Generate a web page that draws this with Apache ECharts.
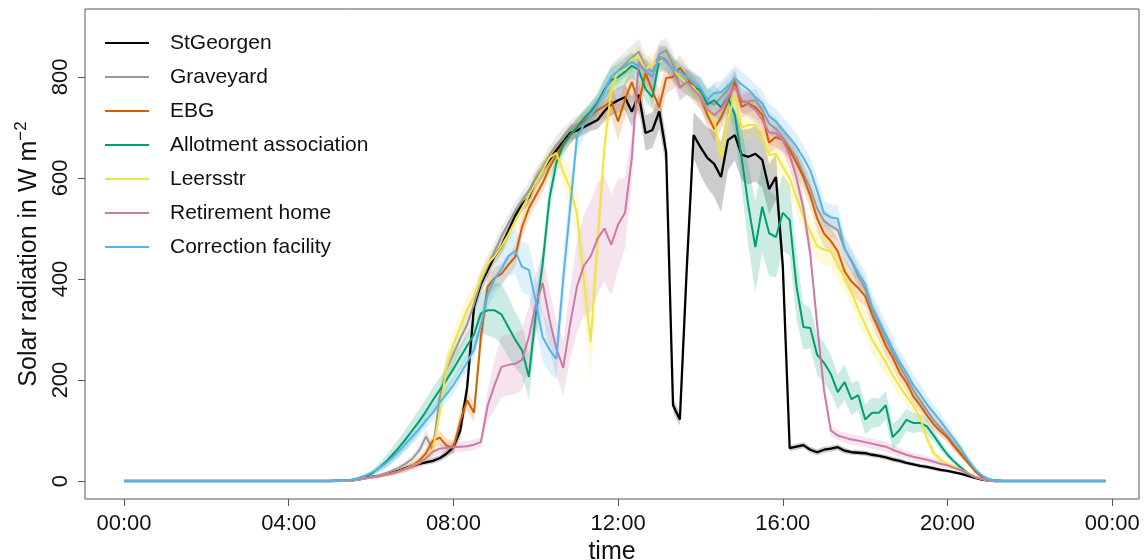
<!DOCTYPE html>
<html>
<head>
<meta charset="utf-8">
<title>Solar radiation</title>
<script src="https://cdn.jsdelivr.net/npm/echarts@6/dist/echarts.min.js"></script>
<style>
  html, body { margin: 0; padding: 0; background: #fff; }
  #chart { width: 1144px; height: 560px; }
</style>
</head>
<body>
<div id="chart"></div>
<script>
// time stamps (10 min steps during the day)
const times = [
  '00:00', '05:00',
  '05:30', '05:40', '05:50',
  '06:00', '06:10', '06:20', '06:30', '06:40', '06:50',
  '07:00', '07:10', '07:20', '07:30', '07:40', '07:50',
  '08:00', '08:10', '08:20', '08:30', '08:40', '08:50',
  '09:00', '09:10', '09:20', '09:30', '09:40', '09:50',
  '10:00', '10:10', '10:20', '10:30', '10:40', '10:50',
  '11:00', '11:10', '11:20', '11:30', '11:40', '11:50',
  '12:00', '12:10', '12:20', '12:30', '12:40', '12:50',
  '13:00', '13:10', '13:20', '13:30', '13:40', '13:50',
  '14:00', '14:10', '14:20', '14:30', '14:40', '14:50',
  '15:00', '15:10', '15:20', '15:30', '15:40', '15:50',
  '16:00', '16:10', '16:20', '16:30', '16:40', '16:50',
  '17:00', '17:10', '17:20', '17:30', '17:40', '17:50',
  '18:00', '18:10', '18:20', '18:30', '18:40', '18:50',
  '19:00', '19:10', '19:20', '19:30', '19:40', '19:50',
  '20:00', '20:10', '20:20', '20:30', '20:40', '20:50',
  '21:00', '21:10', '21:20', '21:30',
  '22:00', '23:50'
]

const names = ['StGeorgen', 'Graveyard', 'EBG', 'Allotment association', 'Leersstr', 'Retirement home', 'Correction facility']
const colors = ['#000000', '#999999', '#D55E00', '#009E73', '#F0E442', '#CC79A7', '#56B4E9']

const xTicks = [0, 4, 8, 12, 16, 20, 24]
const yTicks = [0, 200, 400, 600, 800]

// mean radiation per site
const stGeorgen = [0, 0,
  1, 3, 5,
  8, 10, 13, 16, 20, 25,
  30, 34, 37, 40, 45, 54,
  67, 100, 185, 345, 390, 418,
  445, 465, 495, 525, 548, 562,
  595, 616, 636, 655, 672, 689,
  694, 701, 708, 715, 732, 746,
  754, 760, 731, 765, 689, 695,
  732, 650, 150, 122, 420, 685,
  661, 640, 628, 602, 675, 685,
  646, 642, 648, 636, 578, 602,
  425, 65, 68, 71, 62, 57,
  62, 64, 67, 60, 57, 56,
  55, 52, 50, 47, 43, 40,
  36, 33, 30, 28, 25, 22,
  20, 17, 14, 10, 6, 3,
  1, 0, 0, 0,
  0, 0]

const graveyard = [0, 0,
  1, 3, 5,
  8, 11, 15, 20, 26, 34,
  44, 60, 88, 62, 165, 222,
  252, 282, 310, 350, 395, 425,
  455, 485, 510, 535, 555, 575,
  600, 620, 645, 665, 680, 695,
  705, 715, 730, 745, 775, 800,
  812, 825, 838, 850, 820, 810,
  845, 853, 825, 780, 790, 785,
  770, 752, 745, 760, 775, 795,
  750, 752, 754, 735, 708, 697,
  680, 660, 640, 608, 580, 540,
  515, 505, 497, 460, 435, 405,
  380, 340, 310, 280, 255, 228,
  205, 180, 160, 140, 120, 105,
  90, 72, 55, 38, 20, 8,
  3, 1, 0, 0,
  0, 0]

const ebg = [0, 0,
  1, 3, 5,
  7, 9, 12, 15, 19, 24,
  30, 40, 55, 80, 86, 70,
  66, 118, 160, 135, 285, 385,
  402, 410, 428, 444, 503, 540,
  565, 590, 620, 645, 668, 685,
  700, 712, 722, 735, 742, 752,
  712, 755, 790, 748, 808, 772,
  740, 798, 800, 818, 800, 780,
  760, 725, 697, 720, 750, 790,
  741, 748, 740, 725, 670, 681,
  675, 655, 630, 602, 565, 520,
  490, 475, 455, 415, 395, 382,
  366, 330, 300, 268, 245, 215,
  195, 168, 150, 130, 112, 98,
  86, 68, 52, 36, 20, 8,
  3, 1, 0, 0,
  0, 0]

const allotment = [0, 0,
  2, 5, 9,
  14, 24, 36, 50, 65, 82,
  100, 118, 138, 160, 180, 200,
  222, 245, 268, 290, 332, 338,
  338, 330, 305, 280, 259, 206,
  330, 430, 560, 630, 665, 685,
  700, 718, 732, 750, 775, 794,
  800, 810, 822, 814, 776, 760,
  834, 838, 815, 800, 790, 780,
  775, 745, 754, 740, 760, 725,
  640, 543, 463, 543, 491, 483,
  531, 517, 385, 305, 303, 250,
  234, 212, 176, 196, 162, 170,
  122, 135, 135, 150, 87, 101,
  121, 115, 115, 108, 90, 70,
  52, 38, 26, 15, 8, 4,
  2, 1, 0, 0,
  0, 0]

const leersstr = [0, 0,
  1, 3, 5,
  7, 9, 12, 15, 19, 24,
  30, 36, 44, 60, 135, 225,
  270, 305, 340, 365, 400, 430,
  445, 465, 488, 515, 540, 565,
  592, 615, 640, 650, 612, 580,
  530, 400, 275, 470, 660, 775,
  812, 815, 835, 840, 815, 825,
  830, 838, 815, 800, 788, 780,
  760, 735, 715, 642, 715, 765,
  700, 705, 705, 685, 645, 648,
  622, 600, 560, 523, 495, 465,
  458, 455, 425, 405, 375, 340,
  310, 280, 258, 235, 210, 188,
  168, 150, 125, 85, 55, 42,
  34, 28, 22, 15, 8, 4,
  1, 0, 0, 0,
  0, 0]

const retirement = [0, 0,
  1, 3, 5,
  7, 9, 12, 15, 19, 24,
  29, 35, 45, 58, 64, 66,
  67, 68, 69, 72, 77, 150,
  190, 226, 230, 232, 240, 285,
  350, 392, 320, 262, 224, 310,
  385, 426, 445, 480, 500, 468,
  508, 531, 640, 830, 810, 800,
  840, 835, 814, 778, 790, 775,
  760, 735, 725, 735, 760, 780,
  755, 745, 735, 715, 690, 688,
  675, 645, 600, 540, 450, 310,
  180, 100, 90, 86, 82, 80,
  77, 74, 71, 68, 62, 57,
  52, 48, 45, 42, 38, 34,
  31, 26, 21, 14, 8, 4,
  1, 0, 0, 0,
  0, 0]

const correction = [0, 0,
  2, 5, 10,
  16, 24, 33, 45, 58, 73,
  88, 103, 120, 135, 155, 172,
  190, 212, 235, 260, 310, 370,
  400, 420, 445, 455, 424, 418,
  355, 285, 260, 242, 400, 540,
  680, 705, 722, 745, 770, 800,
  812, 820, 830, 820, 815, 800,
  840, 830, 815, 810, 800, 790,
  778, 755, 768, 770, 782, 798,
  785, 775, 760, 748, 722, 712,
  695, 680, 662, 640, 615, 575,
  530, 522, 520, 460, 437, 412,
  390, 345, 318, 290, 262, 236,
  215, 190, 172, 152, 135, 118,
  100, 82, 63, 42, 24, 11,
  4, 1, 0, 0,
  0, 0]

// half width of the shaded band around each mean
const stGeorgenBand = [0, 0,
  1, 1, 2,
  2, 2, 3, 3, 3, 4,
  4, 5, 5, 6, 6, 8,
  10, 15, 20, 20, 18, 15,
  15, 15, 15, 15, 15, 15,
  15, 15, 15, 15, 15, 15,
  15, 15, 15, 18, 20, 22,
  25, 25, 30, 30, 35, 35,
  35, 30, 15, 12, 20, 45,
  55, 60, 65, 70, 60, 50,
  50, 55, 55, 55, 50, 45,
  30, 6, 6, 6, 6, 6,
  6, 6, 6, 6, 5, 5,
  5, 5, 5, 5, 5, 5,
  4, 4, 4, 4, 4, 4,
  3, 3, 3, 2, 2, 1,
  1, 0, 0, 0,
  0, 0]

const graveyardBand = [0, 0,
  1, 1, 2,
  2, 3, 3, 4, 5, 6,
  7, 10, 15, 12, 20, 25,
  25, 25, 25, 25, 22, 20,
  18, 18, 18, 18, 18, 18,
  18, 18, 18, 18, 18, 18,
  18, 18, 20, 20, 22, 25,
  25, 25, 25, 25, 25, 25,
  25, 25, 25, 25, 25, 25,
  25, 25, 25, 25, 22, 22,
  22, 22, 22, 22, 22, 22,
  22, 22, 22, 22, 22, 22,
  22, 22, 22, 22, 20, 20,
  20, 20, 20, 18, 18, 18,
  16, 16, 15, 14, 13, 12,
  11, 10, 8, 6, 4, 2,
  1, 0, 0, 0,
  0, 0]

const ebgBand = [0, 0,
  1, 1, 2,
  2, 3, 3, 4, 5, 6,
  7, 8, 10, 12, 14, 14,
  14, 18, 20, 18, 30, 25,
  20, 20, 20, 22, 22, 20,
  18, 18, 18, 18, 18, 18,
  18, 18, 20, 22, 25, 30,
  38, 35, 30, 30, 28, 30,
  35, 30, 25, 25, 22, 22,
  22, 25, 25, 25, 25, 22,
  22, 22, 22, 22, 22, 22,
  22, 22, 25, 25, 25, 25,
  25, 25, 25, 25, 25, 25,
  22, 22, 22, 20, 20, 18,
  16, 15, 14, 13, 12, 11,
  10, 9, 8, 6, 4, 2,
  1, 0, 0, 0,
  0, 0]

const allotmentBand = [0, 0,
  1, 2, 3,
  5, 8, 12, 15, 18, 20,
  22, 24, 25, 25, 25, 25,
  25, 25, 25, 30, 40, 50,
  55, 60, 60, 55, 50, 45,
  40, 35, 30, 25, 20, 18,
  18, 18, 18, 20, 22, 25,
  25, 25, 25, 25, 25, 25,
  25, 25, 25, 25, 25, 25,
  25, 30, 30, 30, 30, 35,
  60, 80, 90, 90, 85, 80,
  75, 70, 65, 45, 40, 40,
  40, 38, 35, 35, 32, 30,
  30, 30, 28, 28, 25, 25,
  22, 20, 18, 15, 12, 10,
  8, 6, 5, 4, 3, 2,
  1, 0, 0, 0,
  0, 0]

const leersstrBand = [0, 0,
  1, 1, 2,
  2, 3, 3, 4, 5, 6,
  7, 8, 10, 12, 25, 30,
  30, 28, 25, 22, 20, 20,
  18, 18, 18, 18, 18, 18,
  18, 18, 20, 22, 30, 40,
  50, 65, 75, 60, 40, 30,
  25, 22, 22, 22, 22, 22,
  22, 22, 22, 22, 22, 22,
  22, 22, 25, 30, 30, 25,
  25, 25, 25, 25, 30, 30,
  30, 30, 30, 30, 30, 30,
  30, 30, 30, 30, 28, 28,
  28, 26, 25, 25, 22, 20,
  18, 16, 14, 12, 10, 8,
  6, 5, 4, 3, 2, 1,
  1, 0, 0, 0,
  0, 0]

const retirementBand = [0, 0,
  1, 1, 2,
  2, 3, 3, 4, 5, 6,
  7, 8, 9, 10, 10, 10,
  10, 10, 10, 10, 10, 30,
  50, 60, 60, 60, 60, 60,
  60, 60, 60, 55, 55, 70,
  90, 100, 110, 110, 105, 100,
  90, 70, 50, 30, 25, 25,
  25, 25, 25, 25, 25, 25,
  25, 25, 25, 25, 25, 25,
  25, 25, 25, 25, 25, 25,
  25, 25, 25, 25, 20, 15,
  12, 10, 10, 10, 10, 10,
  10, 10, 10, 10, 9, 9,
  8, 8, 8, 7, 7, 6,
  6, 5, 4, 3, 2, 1,
  1, 0, 0, 0,
  0, 0]

const correctionBand = [0, 0,
  1, 2, 3,
  4, 6, 8, 10, 12, 14,
  15, 16, 16, 16, 16, 16,
  16, 16, 18, 20, 22, 25,
  30, 35, 40, 45, 50, 50,
  50, 50, 45, 40, 50, 40,
  30, 25, 22, 20, 20, 20,
  20, 20, 20, 20, 20, 20,
  20, 20, 20, 20, 20, 20,
  22, 22, 22, 22, 25, 25,
  25, 25, 25, 25, 25, 25,
  25, 25, 25, 25, 25, 25,
  25, 25, 25, 25, 25, 25,
  25, 25, 25, 25, 25, 22,
  22, 20, 20, 18, 16, 15,
  14, 12, 10, 8, 5, 3,
  1, 0, 0, 0,
  0, 0]

const values = [stGeorgen, graveyard, ebg, allotment, leersstr, retirement, correction]
const bands = [stGeorgenBand, graveyardBand, ebgBand, allotmentBand, leersstrBand, retirementBand, correctionBand]

const hours = times.map(s => Number(s.slice(0, 2)) + Number(s.slice(3)) / 60)
const font = 'Liberation Sans, Arial, Helvetica, sans-serif'

function bandSeries(k) {
  const v = values[k]
  const w = bands[k]
  return {
    type: 'custom',
    silent: true,
    z: 1,
    clip: true,
    data: hours.map((h, i) => [h, v[i] - w[i], v[i] + w[i]]),
    encode: { x: 0, y: [1, 2] },
    renderItem: function (params, api) {
      if (params.dataIndex !== 0) return null
      const upper = []
      const lower = []
      for (let i = 0; i < hours.length; i++) {
        upper.push(api.coord([hours[i], v[i] + w[i]]))
        lower.unshift(api.coord([hours[i], v[i] - w[i]]))
      }
      return {
        type: 'polygon',
        shape: { points: upper.concat(lower) },
        style: { fill: colors[k], opacity: 0.2 }
      }
    }
  }
}

function lineSeries(k) {
  return {
    name: names[k],
    type: 'line',
    z: 2,
    symbol: 'none',
    showSymbol: false,
    data: hours.map((h, i) => [h, values[k][i]]),
    lineStyle: { color: colors[k], width: k === 0 ? 2.3 : 2 },
    itemStyle: { color: colors[k] }
  }
}

const chart = echarts.init(document.getElementById('chart'))
chart.setOption({
  animation: false,
  backgroundColor: '#fff',
  textStyle: { fontFamily: font },
  grid: {
    left: 85, right: 5, top: 9, bottom: 61,
    show: true, borderColor: '#555', borderWidth: 1,
    containLabel: false, outerBoundsMode: 'none'
  },
  legend: {
    data: names,
    orient: 'vertical',
    left: 100,
    top: 26,
    icon: 'rect',
    itemWidth: 44,
    itemHeight: 2,
    itemGap: 10,
    textStyle: { fontFamily: font, fontSize: 21, lineHeight: 24, color: '#111', padding: [0, 0, 0, 16] }
  },
  xAxis: {
    type: 'value',
    min: -0.947,
    max: 24.65,
    splitLine: { show: false },
    axisLine: { show: false, onZero: false },
    axisTick: { show: true, customValues: xTicks, length: 7, lineStyle: { color: '#555' } },
    axisLabel: {
      customValues: xTicks,
      fontSize: 22,
      color: '#111',
      margin: 14,
      formatter: v => String(v % 24).padStart(2, '0') + ':00'
    },
    name: 'time',
    nameLocation: 'middle',
    nameGap: 36,
    nameTextStyle: { fontSize: 25, color: '#111', fontFamily: font }
  },
  yAxis: {
    type: 'value',
    min: -35.6,
    max: 934.6,
    splitLine: { show: false },
    axisLine: { show: false, onZero: false },
    axisTick: { show: true, customValues: yTicks, length: 7, lineStyle: { color: '#555' } },
    axisLabel: { customValues: yTicks, rotate: 90, fontSize: 22, color: '#111', margin: 13 },
    name: '{a|Solar radiation in W m}{b|\u22122}',
    nameLocation: 'middle',
    nameRotate: 90,
    nameGap: 38,
    nameTextStyle: {
      rich: {
        a: { fontSize: 25, lineHeight: 34, color: '#111', fontFamily: font },
        b: { fontSize: 17, lineHeight: 18, verticalAlign: 'top', color: '#111', fontFamily: font }
      }
    }
  },
  series: names.map((n, k) => bandSeries(k)).concat(names.map((n, k) => lineSeries(k)))
})
</script>
</body>
</html>
